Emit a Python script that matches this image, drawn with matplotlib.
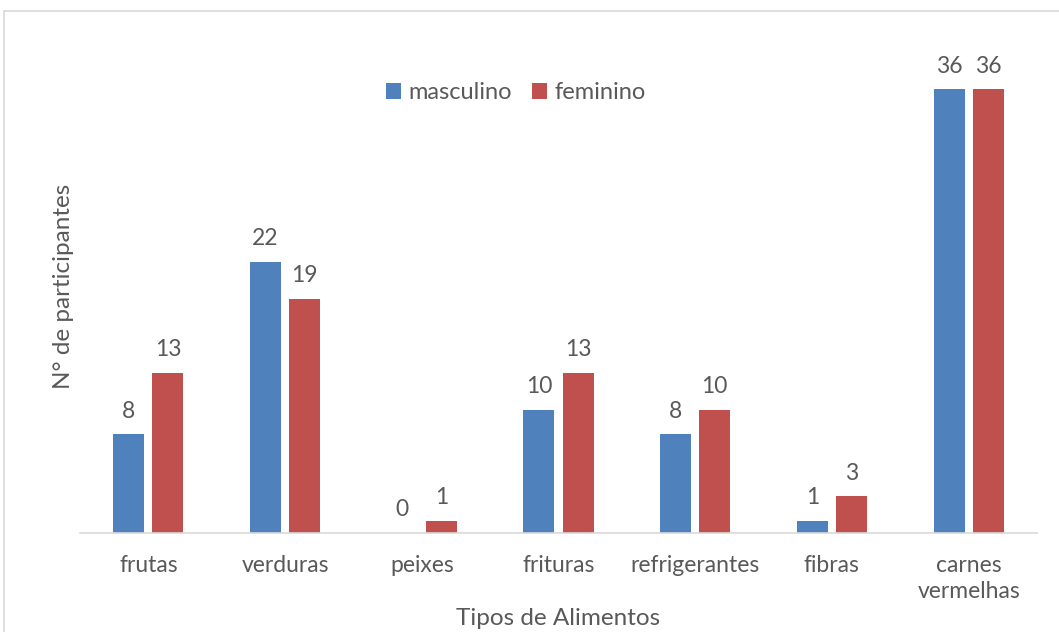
import matplotlib
matplotlib.use("Agg")
import matplotlib.pyplot as plt
from matplotlib.patches import Rectangle
import numpy as np

plt.rcParams['font.family'] = ['Lato', 'DejaVu Sans']

# Food types and counts by sex
categories = ["frutas", "verduras", "peixes", "frituras", "refrigerantes", "fibras", "carnes\nvermelhas"]
masculino = [8, 22, 0, 10, 8, 1, 36]
feminino = [13, 19, 1, 13, 10, 3, 36]

blue = "#4f81bd"
red = "#c0504d"
txt = "#595959"

fig = plt.figure(figsize=(10.59, 6.32), dpi=100)
ax = fig.add_axes([80/1059, (632-533)/632, 957/1059, 493/632])

# outer chart frame
fig.patches.append(Rectangle((4/1059, -0.05), 1.1, (632-11)/632 + 0.05,
                             transform=fig.transFigure, fill=False,
                             edgecolor="#d9d9d9", lw=1.2))

x = np.arange(len(categories))
w = 0.227
off = 0.143
b1 = ax.bar(x - off, masculino, w, color=blue, label="masculino")
b2 = ax.bar(x + off, feminino, w, color=red, label="feminino")

for bars, vals in ((b1, masculino), (b2, feminino)):
    for r, v in zip(bars, vals):
        ax.annotate(str(v), (r.get_x() + r.get_width()/2, v), xytext=(0, 9),
                    textcoords="offset points", ha="center", va="bottom",
                    fontsize=16.5, color=txt)

ax.set_xlim(-0.5, len(categories) - 0.5)
ax.set_ylim(0, 40)
ax.set_xticks(x)
ax.set_xticklabels(categories, fontsize=16.5, color=txt, linespacing=1.3)
ax.tick_params(axis="x", length=0, pad=16)
ax.set_yticks([])
for s in ("top", "right", "left"):
    ax.spines[s].set_visible(False)
ax.spines["bottom"].set_color("#d9d9d9")
ax.spines["bottom"].set_linewidth(1.2)

ax.set_xlabel("Tipos de Alimentos", fontsize=17.5, color=txt, labelpad=4)
ax.set_ylabel("N° de participantes", fontsize=17.5, color=txt, labelpad=4)

leg = ax.legend(loc="upper center", bbox_to_anchor=(0.455, 0.957), ncol=2,
                frameon=False, fontsize=17, handlelength=0.65, handleheight=0.65,
                handletextpad=0.3, columnspacing=0.85)
for t in leg.get_texts():
    t.set_color(txt)

fig.savefig("out.png", dpi=100)
